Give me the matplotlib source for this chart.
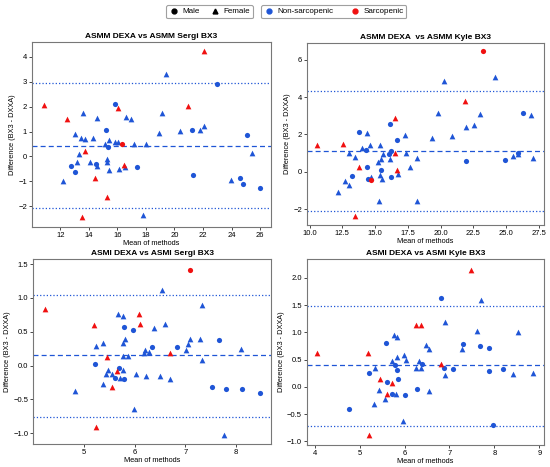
import numpy as np
import matplotlib
matplotlib.use('agg')
import matplotlib.pyplot as plt
from matplotlib.lines import Line2D

plt.rcParams['font.family'] = ['Liberation Sans', 'DejaVu Sans']

BLUE = '#1f55d6'
RED = '#f01010'

## ASMM DEXA vs ASMM Sergi BX3
p1_blue_m_x = [15.86, 22.96, 21.20, 21.27, 25.09, 24.60, 24.79, 26.0, 15.21, 15.33, 17.34, 12.75, 13.03, 14.5]
p1_blue_m_y = [2.12, 2.91, 1.05, -0.75, 0.87, -0.87, -1.09, -1.28, 1.05, 0.38, -0.42, -0.38, -0.63, -0.31]
p1_blue_f_x = [19.40, 13.55, 14.60, 16.57, 16.94, 19.12, 13.01, 13.41, 13.71, 14.30, 15.42, 15.14, 15.82,
               16.03, 17.13, 18.0, 18.91, 20.41, 21.81, 22.05, 25.42, 23.97, 12.19, 13.31, 13.19, 14.06,
               14.6, 15.28, 15.30, 15.42, 16.10, 16.54, 17.76]
p1_blue_f_y = [3.29, 1.73, 1.54, 1.58, 1.49, 1.76, 0.89, 0.75, 0.70, 0.75, 0.64, 0.48, 0.56,
               0.56, 0.51, 0.48, 0.95, 1.03, 1.06, 1.22, 0.15, -0.95, -0.99, 0.08, -0.24, -0.23,
               -0.38, -0.09, -0.23, -0.54, -0.50, -0.44, -2.36]
p1_red_m_x = [16.29]
p1_red_m_y = [0.51]
p1_red_f_x = [10.85, 12.49, 22.07, 16.05, 20.97, 13.71, 14.44, 16.45, 15.28, 13.48]
p1_red_f_y = [2.05, 1.50, 4.25, 1.93, 2.01, 0.23, -0.87, -0.36, -1.62, -2.42]
p1_lines = [0.43, 2.93, -2.07]

## ASMM DEXA vs ASMM Kyle BX3
p2_blue_m_x = [13.77, 16.11, 16.67, 14.30, 14.35, 13.21, 14.50, 15.42, 16.21, 16.06, 16.21, 21.96, 24.89, 25.88, 26.28]
p2_blue_m_y = [2.12, 2.53, 1.71, 1.17, 0.27, -0.20, -0.36, 0.12, 1.12, 0.94, -0.30, 0.57, 0.64, 1.01, 3.17]
p2_blue_f_x = [20.23, 24.12, 19.82, 23.0, 26.92, 21.91, 22.57, 20.89, 19.34, 17.28, 14.38, 14.61, 15.37,
               13.97, 13.03, 13.46, 15.6, 15.47, 15.19, 16.16, 17.4, 18.17, 17.68, 12.72, 13.0, 12.19,
               14.68, 15.39, 15.5, 16.72, 15.34, 18.17, 25.5, 25.93, 27.07]
p2_blue_f_y = [4.84, 5.05, 3.15, 3.11, 3.02, 2.42, 2.49, 1.94, 1.80, 1.99, 2.10, 1.46, 1.41,
               1.25, 1.0, 0.78, 0.94, 0.68, 0.52, 0.71, 0.98, 0.73, 0.27, -0.48, -0.69, -1.07,
               -0.27, -0.16, -0.37, -0.12, -1.58, -1.55, 0.84, 0.96, 0.73]
p2_red_m_x = [23.26, 14.68]
p2_red_m_y = [6.44, -0.46]
p2_red_f_x = [10.56, 12.54, 21.86, 16.54, 16.56, 13.77, 16.67, 13.46]
p2_red_f_y = [1.46, 1.51, 3.77, 2.86, 1.03, 0.27, 0.09, -2.38]
p2_lines = [1.12, 4.32, -2.10]

## ASMI DEXA vs ASMI Sergi BX3
p3_blue_m_x = [5.22, 5.79, 5.96, 5.69, 5.62, 5.80, 6.34, 6.83, 7.67, 7.52, 7.81, 8.12, 8.47]
p3_blue_m_y = [0.02, 0.57, 0.53, -0.03, -0.19, -0.20, 0.28, 0.28, 0.38, -0.31, -0.34, -0.34, -0.41]
p3_blue_f_x = [6.55, 7.33, 5.68, 5.77, 6.38, 6.60, 5.81, 5.77, 5.37, 5.25, 7.10, 7.28, 7.05, 7.01,
               6.21, 6.19, 6.29, 5.77, 5.87, 8.10, 7.33, 5.47, 5.44, 5.55, 5.71, 5.77, 6.03, 6.22,
               6.51, 6.70, 5.37, 4.83, 5.98, 7.77]
p3_blue_f_y = [1.12, 0.90, 0.76, 0.74, 0.56, 0.62, 0.39, 0.33, 0.33, 0.29, 0.39, 0.39, 0.32, 0.23,
               0.23, 0.19, 0.20, 0.14, 0.14, 0.25, 0.08, -0.06, -0.12, -0.13, -0.18, -0.07, -0.12, -0.15,
               -0.16, -0.20, -0.27, -0.37, -0.64, -1.03]
p3_red_m_x = [7.10]
p3_red_m_y = [1.41]
p3_red_f_x = [4.23, 5.20, 6.09, 6.10, 6.70, 5.46, 5.66, 5.56, 5.25]
p3_red_f_y = [0.83, 0.60, 0.77, 0.61, 0.18, 0.12, -0.08, -0.31, -0.91]
p3_lines = [0.152, 1.043, -0.753]

## ASMI DEXA vs ASMI Kyle BX3
p4_blue_m_x = [6.81, 5.59, 5.21, 5.79, 5.84, 5.62, 5.86, 5.72, 6.01, 6.27, 4.76, 6.39, 6.87, 7.07,
               7.30, 7.68, 7.87, 7.87, 8.19, 7.96]
p4_blue_m_y = [1.64, 0.81, 0.26, 0.40, 0.31, 0.08, 0.15, -0.13, -0.15, -0.04, -0.41, 0.41, 0.35, 0.32,
               0.78, 0.75, 0.72, 0.29, 0.32, -0.70]
p4_blue_f_x = [7.71, 6.90, 7.61, 8.52, 5.76, 5.83, 6.48, 6.55, 7.27, 5.98, 5.84, 5.72, 6.03, 6.32,
               5.34, 6.26, 6.36, 6.91, 8.42, 8.86, 5.44, 6.55, 5.56, 5.80, 5.32, 5.97]
p4_blue_f_y = [1.60, 1.19, 1.02, 1.00, 0.96, 0.91, 0.77, 0.70, 0.70, 0.59, 0.54, 0.48, 0.49, 0.47,
               0.34, 0.35, 0.35, 0.22, 0.23, 0.25, -0.05, -0.08, -0.23, -0.13, -0.32, -0.63]
p4_red_m_x = []
p4_red_m_y = []
p4_red_f_x = [4.05, 5.19, 7.47, 6.26, 6.37, 6.81, 5.45, 5.72, 5.61, 5.22]
p4_red_f_y = [0.62, 0.63, 2.15, 1.14, 1.14, 0.42, 0.15, 0.07, -0.13, -0.89]
p4_lines = [0.40, 1.49, -0.72]

titles = ['ASMM DEXA vs ASMM Sergi BX3', 'ASMM DEXA  vs ASMM Kyle BX3',
          'ASMI DEXA vs ASMI Sergi BX3', 'ASMI DEXA vs ASMI Kyle BX3']

panels = [
    (p1_blue_m_x, p1_blue_m_y, p1_blue_f_x, p1_blue_f_y, p1_red_m_x, p1_red_m_y, p1_red_f_x, p1_red_f_y, p1_lines),
    (p2_blue_m_x, p2_blue_m_y, p2_blue_f_x, p2_blue_f_y, p2_red_m_x, p2_red_m_y, p2_red_f_x, p2_red_f_y, p2_lines),
    (p3_blue_m_x, p3_blue_m_y, p3_blue_f_x, p3_blue_f_y, p3_red_m_x, p3_red_m_y, p3_red_f_x, p3_red_f_y, p3_lines),
    (p4_blue_m_x, p4_blue_m_y, p4_blue_f_x, p4_blue_f_y, p4_red_m_x, p4_red_m_y, p4_red_f_x, p4_red_f_y, p4_lines),
]

boxes = [[0.058, 0.514, 0.435, 0.396], [0.558, 0.518, 0.431, 0.390],
         [0.060, 0.049, 0.433, 0.396], [0.558, 0.047, 0.431, 0.398]]
xlims = [(10.0, 26.78), (9.8, 27.89), (4.0, 8.69), (3.83, 9.10)]
ylims = [(-2.83, 4.59), (-2.85, 6.89), (-1.161, 1.574), (-1.07, 2.345)]
xticks = [np.arange(12, 27, 2), np.arange(10, 28, 2.5), [5, 6, 7, 8], [4, 5, 6, 7, 8, 9]]

fig = plt.figure(figsize=(5.5, 4.67), dpi=100)
ms = 14

for i in range(4):
    bmx, bmy, bfx, bfy, rmx, rmy, rfx, rfy, lines = panels[i]
    ax = fig.add_axes(boxes[i])
    ax.scatter(bmx, bmy, s=ms, marker='o', color=BLUE, zorder=3, linewidths=0)
    ax.scatter(bfx, bfy, s=ms + 3, marker='^', color=BLUE, zorder=3, linewidths=0)
    ax.scatter(rmx, rmy, s=ms, marker='o', color=RED, zorder=3, linewidths=0)
    ax.scatter(rfx, rfy, s=ms + 3, marker='^', color=RED, zorder=3, linewidths=0)
    ax.axhline(lines[0], color=BLUE, ls=(0, (4, 2.5)), lw=0.9)
    ax.axhline(lines[1], color=BLUE, ls=':', lw=0.9)
    ax.axhline(lines[2], color=BLUE, ls=':', lw=0.9)
    ax.set_xlim(xlims[i])
    ax.set_ylim(ylims[i])
    ax.set_xticks(xticks[i])
    ax.set_title(titles[i], fontsize=6.0, fontweight='bold', pad=3)
    ax.set_xlabel('Mean of methods', fontsize=5.3, labelpad=0.5)
    ax.set_ylabel('Difference (BX3 - DXXA)', fontsize=5.3, labelpad=1.5)
    ax.tick_params(labelsize=5.5, length=2, width=0.5, pad=1.5)
    for sp in ax.spines.values():
        sp.set_color('#777777')
        sp.set_linewidth(0.8)

sex_handles = [Line2D([], [], marker='o', color='black', ls='', markersize=3.5, label='Male'),
               Line2D([], [], marker='^', color='black', ls='', markersize=3.5, label='Female')]
grp_handles = [Line2D([], [], marker='o', color=BLUE, ls='', markersize=3.5, label='Non-sarcopenic'),
               Line2D([], [], marker='o', color=RED, ls='', markersize=3.5, label='Sarcopenic')]

kw = dict(ncol=2, fontsize=5.8, frameon=True, handletextpad=0.4,
          borderpad=0.35, handlelength=1.2, loc='center', fancybox=True)
leg1 = fig.legend(handles=sex_handles, bbox_to_anchor=(0.381, 0.975), columnspacing=1.4, **kw)
leg2 = fig.legend(handles=grp_handles, bbox_to_anchor=(0.607, 0.975), columnspacing=2.2, **kw)
for lg in (leg1, leg2):
    lg.get_frame().set_edgecolor('#888888')
    lg.get_frame().set_linewidth(0.8)

plt.savefig('out.png', dpi=100)
